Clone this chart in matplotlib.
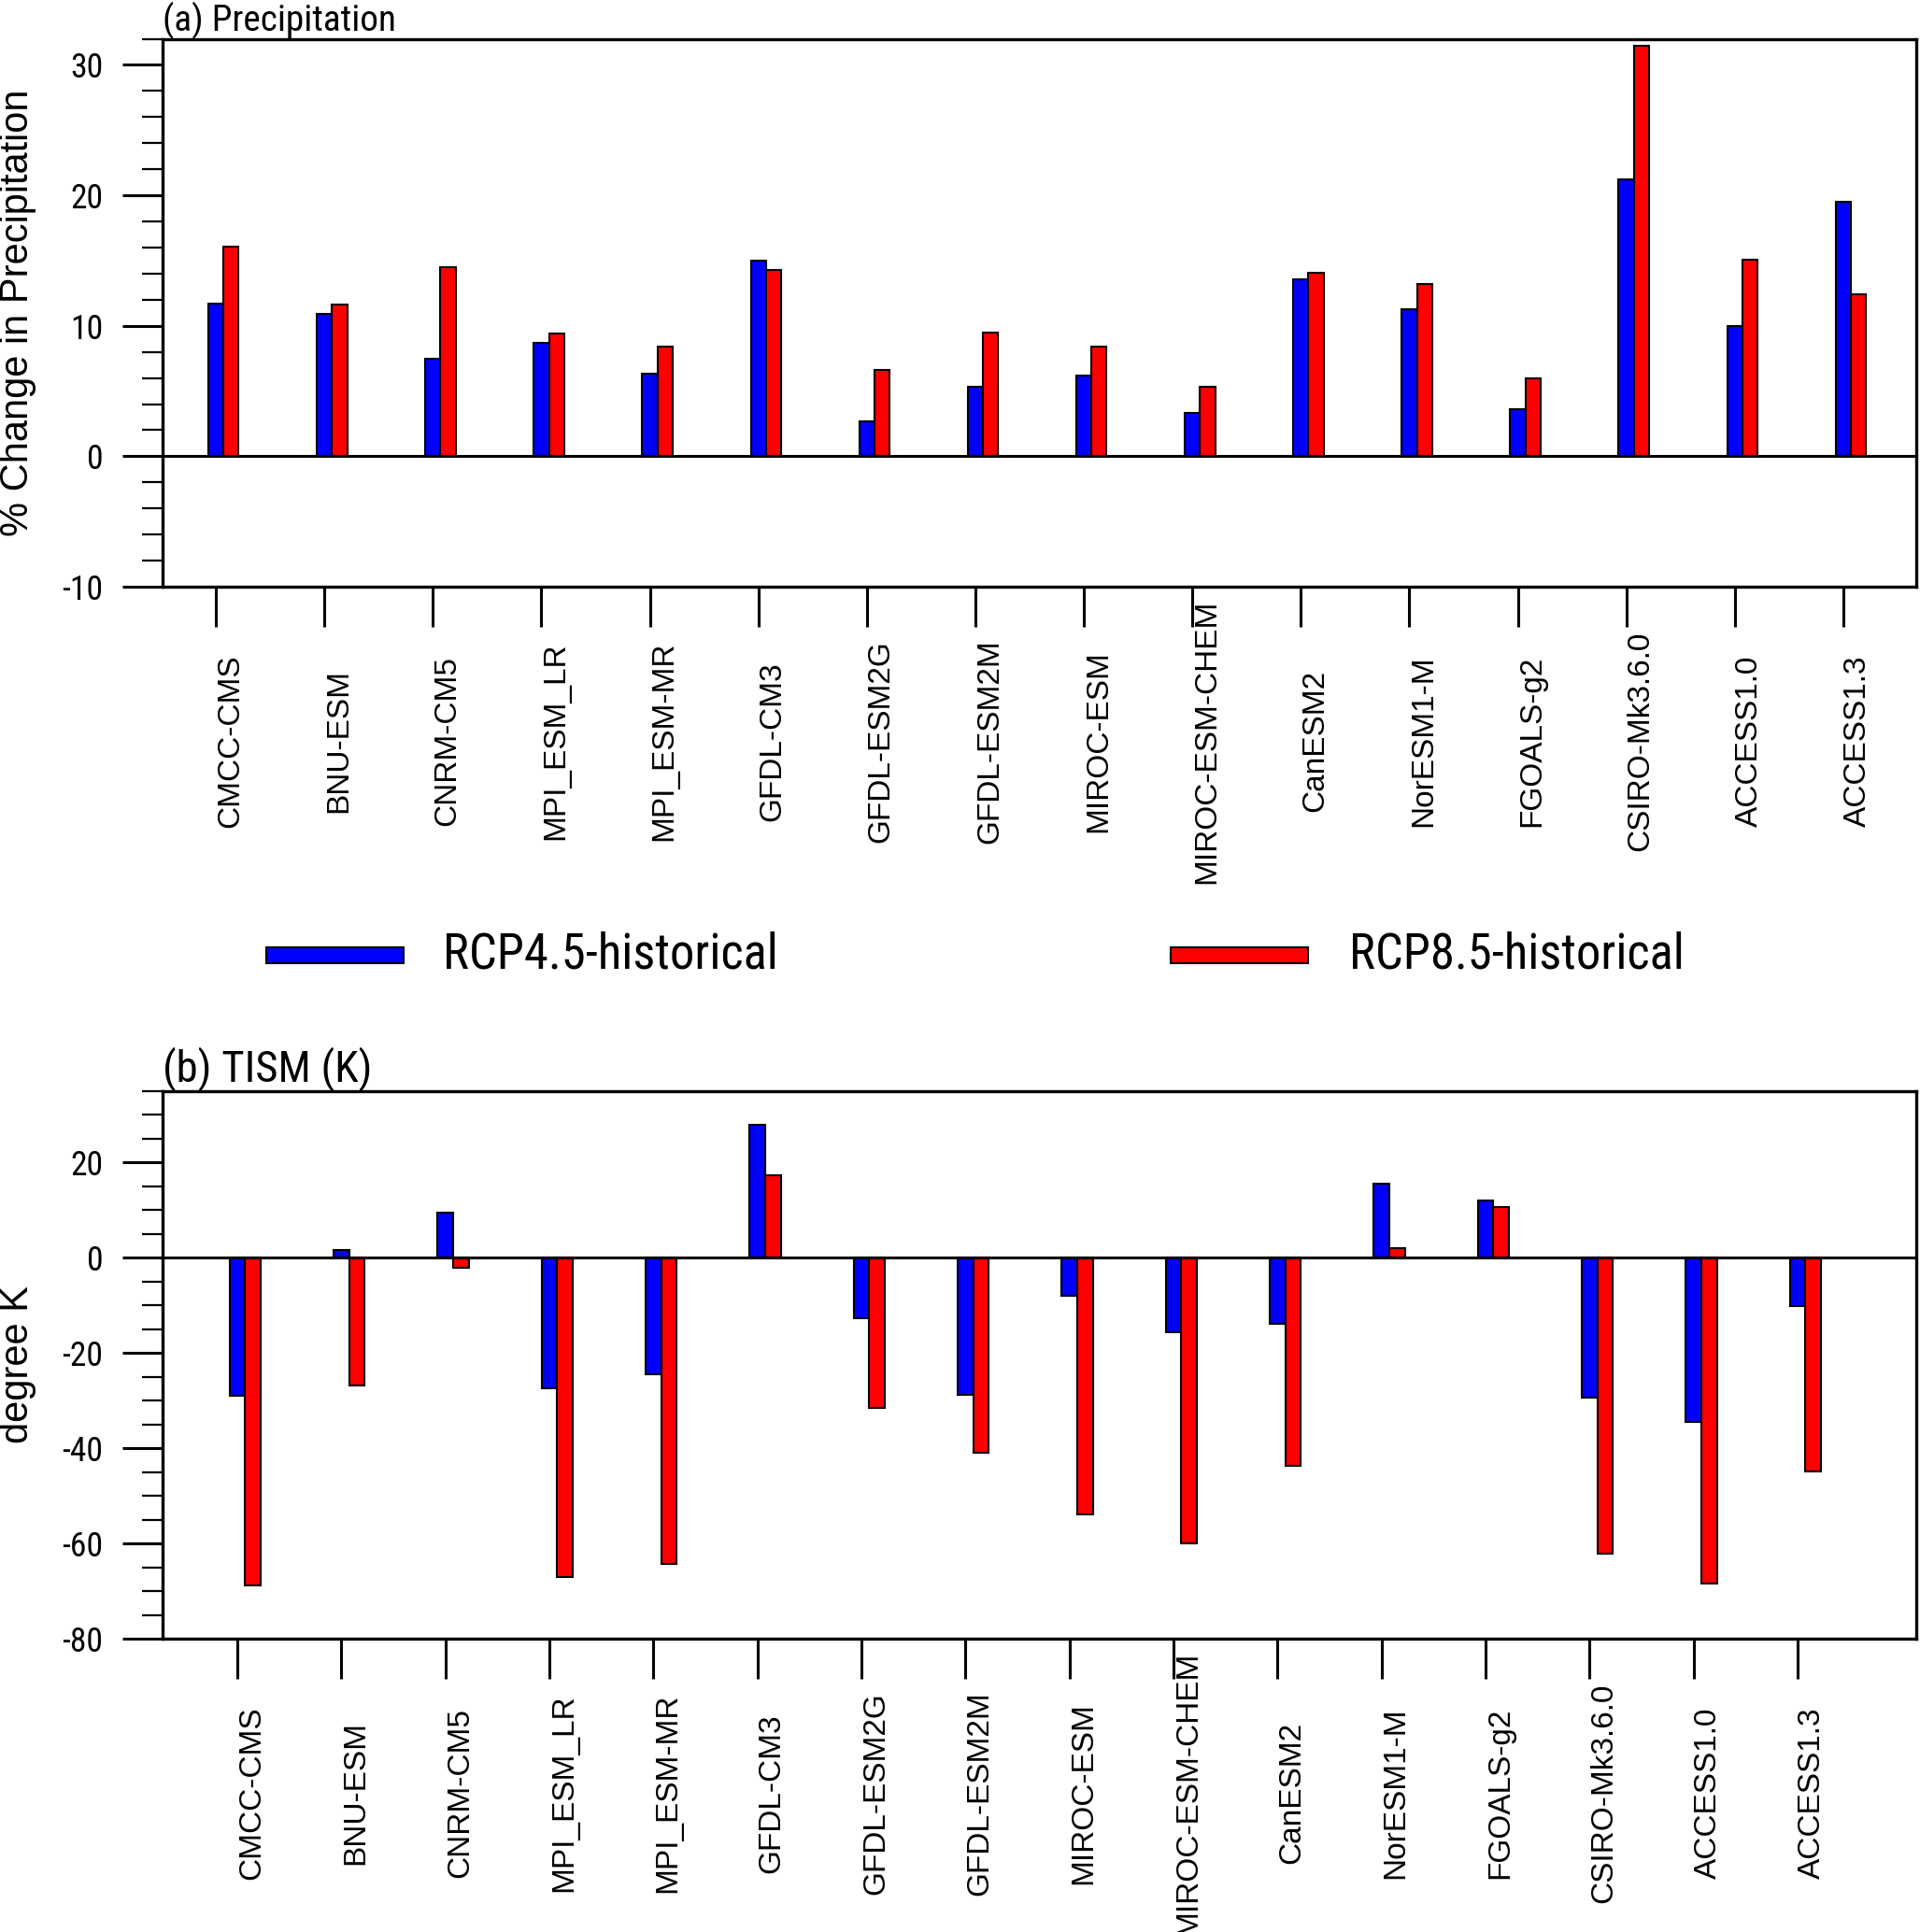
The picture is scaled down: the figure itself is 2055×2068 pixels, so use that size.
import numpy as np
import matplotlib
matplotlib.use("Agg")
import matplotlib.pyplot as plt
from matplotlib import font_manager as fm
from matplotlib.font_manager import FontProperties
from matplotlib.patches import Rectangle
from matplotlib.ticker import MultipleLocator

plt.rcParams["axes.unicode_minus"] = False

models = ["CMCC-CMS", "BNU-ESM", "CNRM-CM5", "MPI_ESM_LR", "MPI_ESM-MR", "GFDL-CM3",
          "GFDL-ESM2G", "GFDL-ESM2M", "MIROC-ESM", "MIROC-ESM-CHEM", "CanESM2",
          "NorESM1-M", "FGOALS-g2", "CSIRO-Mk3.6.0", "ACCESS1.0", "ACCESS1.3"]

# (a) precipitation, % change
pr_rcp45 = [11.7, 10.9, 7.5, 8.7, 6.3, 15.0, 2.7, 5.3, 6.2, 3.3, 13.6, 11.3, 3.6, 21.2, 10.0, 19.5]
pr_rcp85 = [16.1, 11.6, 14.5, 9.4, 8.4, 14.3, 6.6, 9.5, 8.4, 5.3, 14.1, 13.2, 6.0, 31.5, 15.1, 12.4]

# (b) TISM, K
ts_rcp45 = [-29.0, 1.6, 9.4, -27.4, -24.5, 27.9, -12.7, -28.8, -8.0, -15.7, -13.9, 15.6, 12.0, -29.3, -34.5, -10.1]
ts_rcp85 = [-68.8, -26.9, -2.0, -67.0, -64.3, 17.4, -31.5, -41.0, -53.8, -60.0, -43.7, 2.1, 10.7, -62.1, -68.4, -44.9]

legend_labels = ["RCP4.5-historical", "RCP8.5-historical"]
colors = ["blue", "red"]

REG = ["Liberation Sans", "DejaVu Sans"]


# look for a narrow sans font, the titles / numbers in the original are condensed
def find_narrow():
    prefs = ["Liberation Sans Narrow", "Roboto Condensed", "Open Sans Condensed",
             "DejaVu Sans Condensed", "Noto Sans Condensed"]
    fonts = [f for f in fm.fontManager.ttflist
             if f.style == "normal" and f.weight in (400, "normal", "regular", "book")]
    for p in prefs:
        for f in fonts:
            if f.name == p:
                return FontProperties(fname=f.fname)
    for f in fonts:
        if "condensed" in str(f.stretch).lower() or "narrow" in f.name.lower() \
                or "condensed" in f.fname.lower():
            if "sans" in f.name.lower() or "roboto" in f.name.lower():
                return FontProperties(fname=f.fname)
    return FontProperties(family="Liberation Sans")


narrow = find_narrow()

fig = plt.figure(figsize=(20.55, 20.68), dpi=100)
renderer = fig.canvas.get_renderer()


def size_for(text, target_px, base=30):
    t = fig.text(0, 0, text, fontproperties=narrow, fontsize=base)
    w = t.get_window_extent(renderer).width
    t.remove()
    return base * target_px / w


tick_size = size_for("-10", 44)
leg_size = size_for(legend_labels[0], 359)
title_a_size = size_for("(a) Precipitation", 285)
title_b_size = size_for("(b) TISM (K)", 224)

x = np.arange(1, len(models) + 1)


def panel(ax, v1, v2, width, xlim, ylim, major, minor, title, tsize, tpad, ylabel):
    ax.bar(x, v1, width=width, color=colors[0], edgecolor="black", linewidth=1.5, zorder=2)
    ax.bar(x + width, v2, width=width, color=colors[1], edgecolor="black", linewidth=1.5, zorder=2)
    ax.axhline(0, color="black", linewidth=2.2, zorder=3)
    ax.set_xlim(*xlim)
    ax.set_ylim(*ylim)
    ax.set_xticks(x)
    ax.set_xticklabels(models, rotation=90, ha="left", va="center",
                       family=REG, fontsize=24)
    ax.tick_params(axis="x", length=31, width=2.2, pad=88, direction="out")
    ax.yaxis.set_major_locator(MultipleLocator(major))
    ax.yaxis.set_minor_locator(MultipleLocator(minor))
    ax.tick_params(axis="y", which="major", length=31, width=2.2, pad=15, direction="out")
    ax.tick_params(axis="y", which="minor", length=16, width=1.6, direction="out")
    ax.tick_params(top=False, right=False)
    for lab in ax.get_yticklabels():
        lab.set_fontproperties(narrow)
        lab.set_fontsize(tick_size)
    for s in ax.spines.values():
        s.set_linewidth(2.4)
    t = ax.set_title(title, loc="left", fontproperties=narrow, fontsize=tsize, pad=tpad)
    ax.set_ylabel(ylabel, family=REG, fontsize=30, va="center")
    ax.yaxis.set_label_coords(-0.0825, 0.5)
    return t


ax1 = fig.add_axes([0.0847, 0.6963, 0.9133, 0.2836])
t1 = panel(ax1, pr_rcp45, pr_rcp85, 0.14, (0.509, 16.672), (-10, 32), 10, 2,
           "(a) Precipitation", title_a_size, 0, "% Change in Precipitation")

ax2 = fig.add_axes([0.0847, 0.1518, 0.9133, 0.2834])
panel(ax2, ts_rcp45, ts_rcp85, 0.15, (0.281, 17.14), (-80, 35), 20, 5,
      "(b) TISM (K)", title_b_size, 3, "degree K")

# keep the top title inside the figure
fig.canvas.draw()
H = fig.bbox.height
for _ in range(40):
    top = t1.get_window_extent(renderer).y1
    if top <= H - 1:
        break
    t1.set_fontsize(t1.get_fontsize() * 0.99)
    fig.canvas.draw()

# legend between panels
for i, (bx, tx) in enumerate([(0.1387, 0.2307), (0.6097, 0.7027)]):
    fig.add_artist(Rectangle((bx, 0.5014), 0.0715, 0.0082, transform=fig.transFigure,
                             facecolor=colors[i], edgecolor="black", linewidth=1.5))
    fig.text(tx, 0.5058, legend_labels[i], ha="left", va="center",
             fontproperties=narrow, fontsize=leg_size)

fig.savefig("out.png", dpi=100)
